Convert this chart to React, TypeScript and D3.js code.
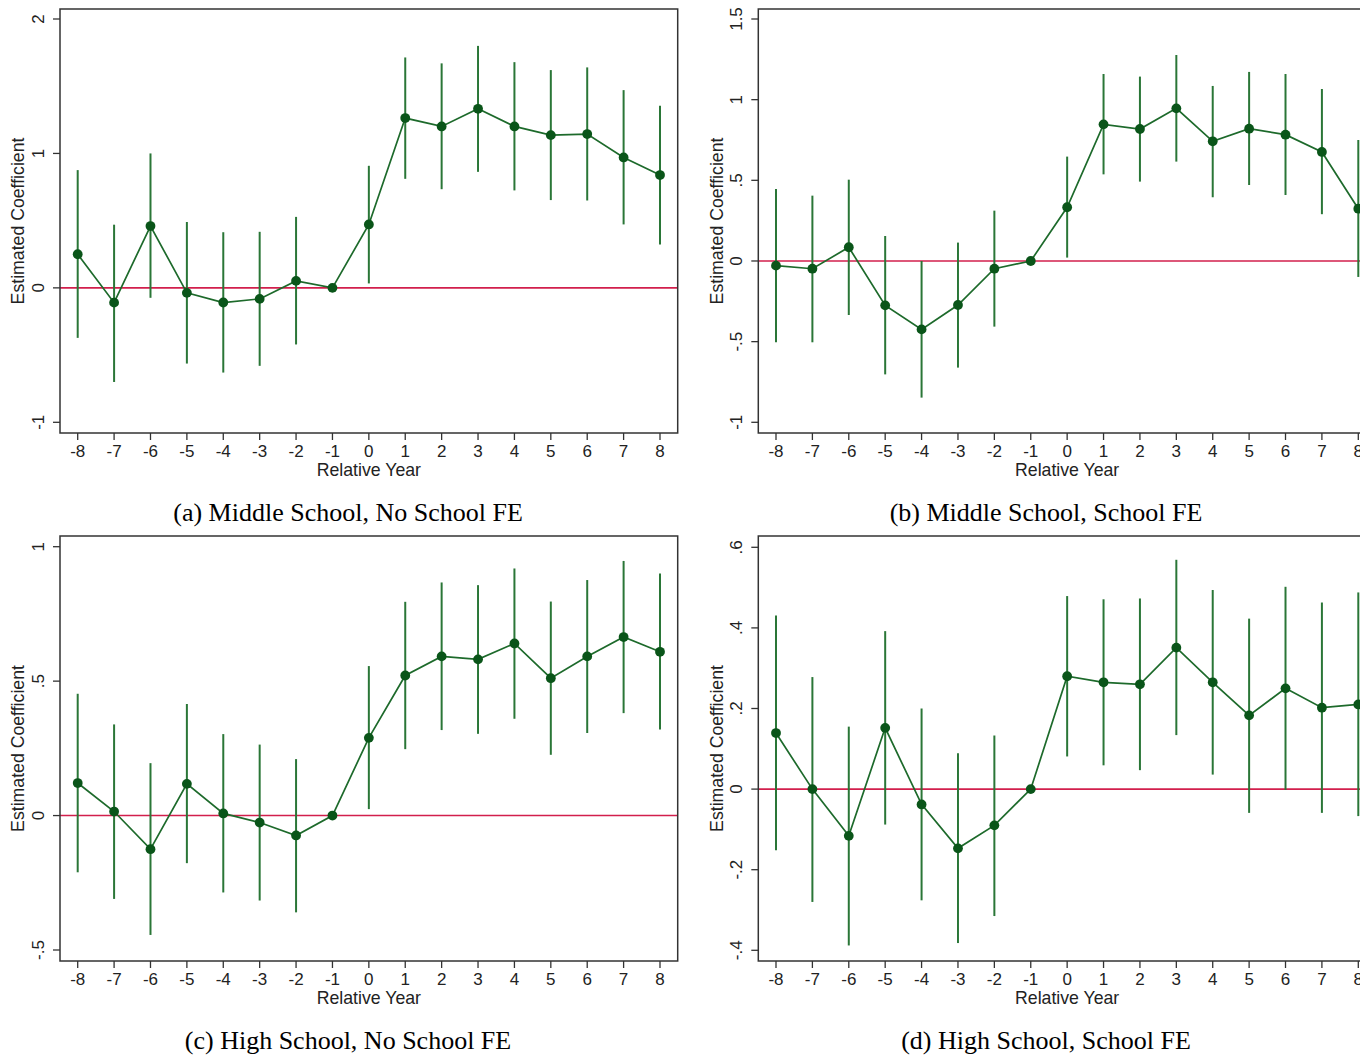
import React from "react";
import * as d3 from "d3";

// Event-study estimates by relative year (-8..8); year -1 is the omitted reference.
const years = [-8, -7, -6, -5, -4, -3, -2, -1, 0, 1, 2, 3, 4, 5, 6, 7, 8];

// (a) Middle School, No School FE
const coefA = [0.25, -0.11, 0.46, -0.037, -0.109, -0.082, 0.052, 0, 0.472, 1.263, 1.201, 1.332, 1.201, 1.136, 1.144, 0.97, 0.839];
const lowA = [-0.372, -0.70, -0.074, -0.563, -0.63, -0.58, -0.421, 0, 0.033, 0.811, 0.734, 0.863, 0.725, 0.653, 0.65, 0.472, 0.323];
const highA = [0.876, 0.47, 1.0, 0.49, 0.414, 0.417, 0.528, 0, 0.908, 1.714, 1.67, 1.80, 1.679, 1.62, 1.64, 1.471, 1.354];

// (b) Middle School, School FE
const coefB = [-0.029, -0.048, 0.085, -0.275, -0.424, -0.273, -0.048, 0, 0.333, 0.847, 0.818, 0.946, 0.742, 0.82, 0.783, 0.676, 0.324];
const lowB = [-0.504, -0.504, -0.335, -0.703, -0.847, -0.661, -0.407, 0, 0.021, 0.537, 0.492, 0.616, 0.395, 0.471, 0.409, 0.29, -0.099];
const highB = [0.446, 0.405, 0.504, 0.155, 0.0, 0.114, 0.312, 0, 0.647, 1.159, 1.143, 1.277, 1.085, 1.172, 1.159, 1.066, 0.75];

// (c) High School, No School FE
const coefC = [0.121, 0.015, -0.125, 0.118, 0.008, -0.026, -0.074, 0, 0.289, 0.521, 0.592, 0.581, 0.64, 0.511, 0.592, 0.664, 0.609];
const lowC = [-0.211, -0.31, -0.444, -0.177, -0.286, -0.316, -0.36, 0, 0.024, 0.247, 0.318, 0.304, 0.36, 0.226, 0.307, 0.381, 0.32];
const highC = [0.453, 0.339, 0.195, 0.415, 0.303, 0.264, 0.21, 0, 0.556, 0.795, 0.867, 0.857, 0.919, 0.796, 0.876, 0.947, 0.9];

// (d) High School, School FE
const coefD = [0.139, 0, -0.116, 0.152, -0.038, -0.147, -0.09, 0, 0.28, 0.265, 0.26, 0.351, 0.265, 0.183, 0.25, 0.202, 0.21];
const lowD = [-0.152, -0.28, -0.388, -0.088, -0.276, -0.382, -0.315, 0, 0.081, 0.059, 0.047, 0.134, 0.036, -0.059, -0.002, -0.059, -0.067];
const highD = [0.431, 0.278, 0.155, 0.392, 0.2, 0.089, 0.133, 0, 0.479, 0.471, 0.473, 0.569, 0.494, 0.423, 0.502, 0.463, 0.488];

const ticksA = [-1, 0, 1, 2];
const ticksB = [-1, -0.5, 0, 0.5, 1, 1.5];
const ticksC = [-0.5, 0, 0.5, 1];
const ticksD = [-0.4, -0.2, 0, 0.2, 0.4, 0.6];

const captions = [
  "(a) Middle School, No School FE",
  "(b) Middle School, School FE",
  "(c) High School, No School FE",
  "(d) High School, School FE",
];

const W = 1360;
const H = 1057;

const CI_COLOR = "#2a7637";
const LINE_COLOR = "#1d6a2b";
const MARK_COLOR = "#0a5519";
const ZERO_COLOR = "#d21f4c";
const AXIS_COLOR = "#333";
const SANS = "'Liberation Sans', Arial, Helvetica, sans-serif";
const SERIF = "'Liberation Serif', 'Times New Roman', serif";

// Stata-style number labels with ASCII hyphen: ".5", "-.5", "1.5"
const fmt = (v: number) => String(+v.toFixed(2)).replace(/^(-?)0\./, "$1.");

type PanelSpec = {
  left: number;
  top: number;
  bottom: number;
  width: number;
  yDomain: [number, number];
  yRange: [number, number];
  ticks: number[];
  coef: number[];
  low: number[];
  high: number[];
  caption: string;
  captionX: number;
  captionY: number;
};

const frameWidth = 617.7;

const panels: PanelSpec[] = [
  { left: 60, top: 9, bottom: 433, width: frameWidth, yDomain: [-1, 2], yRange: [422.3, 19], ticks: ticksA, coef: coefA, low: lowA, high: highA, caption: captions[0], captionX: 348, captionY: 521 },
  { left: 758.3, top: 9, bottom: 433, width: frameWidth, yDomain: [-1, 1.5], yRange: [422.3, 19], ticks: ticksB, coef: coefB, low: lowB, high: highB, caption: captions[1], captionX: 1046, captionY: 521 },
  { left: 60, top: 536, bottom: 961, width: frameWidth, yDomain: [-0.5, 1], yRange: [950, 546.7], ticks: ticksC, coef: coefC, low: lowC, high: highC, caption: captions[2], captionX: 348, captionY: 1049 },
  { left: 758.3, top: 536, bottom: 961, width: frameWidth, yDomain: [-0.4, 0.6], yRange: [950.3, 547.3], ticks: ticksD, coef: coefD, low: lowD, high: highD, caption: captions[3], captionX: 1046, captionY: 1049 },
];

function Panel({ p }: { p: PanelSpec }) {
  const x = d3.scaleLinear().domain([-8, 8]).range([p.left + 17.7, p.left + 600]);
  const y = d3.scaleLinear().domain(p.yDomain).range(p.yRange);
  const right = p.left + p.width;
  const line = d3
    .line<number>()
    .x((_, i) => x(years[i]))
    .y((d) => y(d));
  const midY = (p.top + p.bottom) / 2;
  const midX = (p.left + right) / 2;

  return (
    <g>
      {/* reference line at zero */}
      <line x1={p.left} x2={right} y1={y(0)} y2={y(0)} stroke={ZERO_COLOR} strokeWidth={1.6} />
      {/* confidence intervals */}
      {years.map((yr, i) =>
        yr === -1 ? null : (
          <line key={yr} x1={x(yr)} x2={x(yr)} y1={y(p.low[i])} y2={y(p.high[i])} stroke={CI_COLOR} strokeWidth={2} />
        )
      )}
      <path d={line(p.coef) || ""} fill="none" stroke={LINE_COLOR} strokeWidth={1.7} />
      {years.map((yr, i) => (
        <circle key={yr} cx={x(yr)} cy={y(p.coef[i])} r={4.9} fill={MARK_COLOR} />
      ))}
      {/* frame */}
      <rect x={p.left} y={p.top} width={p.width} height={p.bottom - p.top} fill="none" stroke={AXIS_COLOR} strokeWidth={1.5} />
      {/* y axis */}
      {p.ticks.map((t) => (
        <g key={t}>
          <line x1={p.left - 7} x2={p.left} y1={y(t)} y2={y(t)} stroke={AXIS_COLOR} strokeWidth={1.3} />
          <text
            transform={`translate(${p.left - 22},${y(t)}) rotate(-90)`}
            textAnchor="middle"
            dy="0.35em"
            fontFamily={SANS}
            fontSize={17}
            fill="#222"
          >
            {fmt(t)}
          </text>
        </g>
      ))}
      <text
        transform={`translate(${p.left - 42},${midY}) rotate(-90)`}
        textAnchor="middle"
        dy="0.35em"
        fontFamily={SANS}
        fontSize={17.7}
        fill="#222"
      >
        Estimated Coefficient
      </text>
      {/* x axis */}
      {years.map((yr) => (
        <g key={yr}>
          <line x1={x(yr)} x2={x(yr)} y1={p.bottom} y2={p.bottom + 7} stroke={AXIS_COLOR} strokeWidth={1.3} />
          <text x={x(yr)} y={p.bottom + 18} textAnchor="middle" dy="0.35em" fontFamily={SANS} fontSize={17} fill="#222">
            {yr}
          </text>
        </g>
      ))}
      <text x={midX} y={p.bottom + 37} textAnchor="middle" dy="0.35em" fontFamily={SANS} fontSize={17.7} fill="#222">
        Relative Year
      </text>
      <text x={p.captionX} y={p.captionY} textAnchor="middle" fontFamily={SERIF} fontSize={26} fill="#000">
        {p.caption}
      </text>
    </g>
  );
}

export default function App() {
  return (
    <div style={{ position: "absolute", left: 0, top: 0, width: W, height: H, overflow: "hidden", background: "#fff" }}>
      <svg width={W} height={H} viewBox={`0 0 ${W} ${H}`} style={{ display: "block" }}>
        <rect width={W} height={H} fill="#fff" />
        {panels.map((p, i) => (
          <Panel key={i} p={p} />
        ))}
      </svg>
    </div>
  );
}
